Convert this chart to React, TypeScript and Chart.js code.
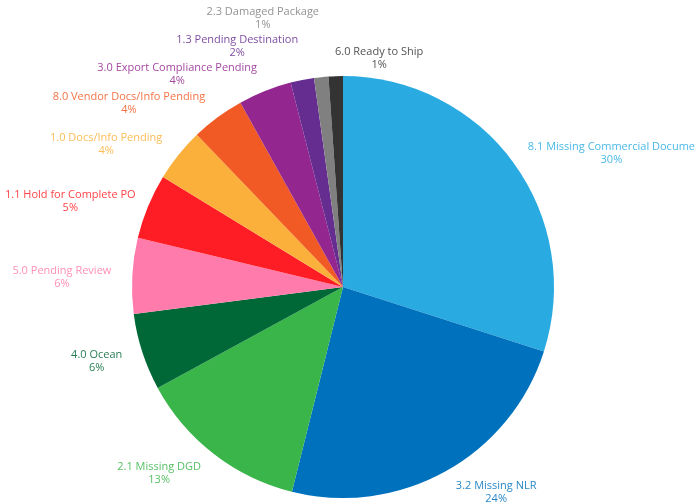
import React, { useEffect, useRef } from "react";
import { Chart, registerables } from "chart.js";

Chart.register(...registerables);

const categories: string[] = [
  "8.1 Missing Commercial Docume",
  "3.2 Missing NLR",
  "2.1 Missing DGD",
  "4.0 Ocean",
  "5.0 Pending Review",
  "1.1 Hold for Complete PO",
  "1.0 Docs/Info Pending",
  "8.0 Vendor Docs/Info Pending",
  "3.0 Export Compliance Pending",
  "1.3 Pending Destination",
  "2.3 Damaged Package",
  "6.0 Ready to Ship",
];
const values: number[] = [30.0, 24.0, 13.2, 5.9, 5.8, 5.0, 4.1, 4.1, 4.1, 1.8, 1.1, 1.1];
const sliceColors: string[] = [
  "#29ABE2",
  "#0071BC",
  "#39B54A",
  "#006837",
  "#FF7BAC",
  "#FF1D25",
  "#FBB03B",
  "#F15A24",
  "#93278F",
  "#662D91",
  "#808080",
  "#333333",
];

const FONT = '11px "Open Sans"';
const LINE_H = 13;
const GAP = 21;
const Y_SHIFT = 3;
const BOX_PAD = 2;
const EDGE = 5;

type Box = { left: number; top: number; w: number; h: number };

const overlaps = (a: Box, b: Box) =>
  a.left < b.left + b.w && b.left < a.left + a.w && a.top < b.top + b.h && b.top < a.top + a.h;

const outerLabels = {
  id: "outerLabels",
  afterDraw(chart: any) {
    const ctx: CanvasRenderingContext2D = chart.ctx;
    const meta = chart.getDatasetMeta(0);
    const data: number[] = chart.data.datasets[0].data;
    const labels: string[] = chart.data.labels;
    const total = data.reduce((a, b) => a + b, 0);
    const cw: number = chart.width;
    ctx.save();
    ctx.font = FONT;
    const items = meta.data.map((arc: any, i: number) => {
      const p = arc.getProps(["x", "y", "startAngle", "endAngle", "outerRadius"], true);
      const mid = (p.startAngle + p.endAngle) / 2;
      const d = p.outerRadius + GAP;
      const ax = p.x + d * Math.cos(mid);
      const ay = p.y + d * Math.sin(mid) + Y_SHIFT;
      const lines = [labels[i], Math.round((data[i] / total) * 100) + "%"];
      const w = Math.max(...lines.map((l) => ctx.measureText(l).width));
      const h = LINE_H * 2;
      const c = Math.cos(mid);
      const align = Math.abs(c) < 0.1 ? "center" : c > 0 ? "left" : "right";
      return { i, mid, ax, ay, w, h, align, lines, box: null as Box | null };
    });
    const leftOf = (ax: number, w: number, align: string) => {
      const l = align === "left" ? ax : align === "right" ? ax - w : ax - w / 2;
      return Math.min(Math.max(l, EDGE), cw - EDGE - w);
    };
    const placed: Box[] = [];
    const right = items.filter((it: any) => Math.cos(it.mid) >= 0).sort((a: any, b: any) => a.ay - b.ay);
    const left = items.filter((it: any) => Math.cos(it.mid) < 0).sort((a: any, b: any) => b.ay - a.ay);
    const pushDown = (it: any) => {
      const box: Box = { left: leftOf(it.ax, it.w, it.align), top: it.ay - it.h / 2, w: it.w, h: it.h + BOX_PAD };
      let guard = 0;
      let hit = placed.find((b) => overlaps(box, b));
      while (hit && guard++ < 50) {
        box.top = hit.top + hit.h;
        hit = placed.find((b) => overlaps(box, b));
      }
      return box;
    };
    right.forEach((it: any) => {
      it.box = pushDown(it);
      placed.push(it.box);
    });
    left.forEach((it: any) => {
      const box: Box = { left: leftOf(it.ax, it.w, it.align), top: it.ay - it.h / 2, w: it.w, h: it.h + BOX_PAD };
      let guard = 0;
      let hit = placed.find((b) => overlaps(box, b));
      while (hit && guard++ < 50) {
        box.top = hit.top - box.h;
        hit = placed.find((b) => overlaps(box, b));
      }
      if (box.top < 2) {
        it.align = "left";
        it.box = pushDown(it);
      } else {
        it.box = box;
      }
      placed.push(it.box);
    });
    ctx.textAlign = "center";
    ctx.textBaseline = "middle";
    items.forEach((it: any) => {
      const b: Box = it.box;
      ctx.fillStyle = sliceColors[it.i];
      ctx.globalAlpha = 0.85;
      it.lines.forEach((l: string, k: number) => {
        ctx.fillText(l, b.left + b.w / 2, b.top + LINE_H / 2 + k * LINE_H);
      });
    });
    ctx.restore();
  },
};

export default function App() {
  const ref = useRef<HTMLCanvasElement | null>(null);
  useEffect(() => {
    if (!ref.current) return;
    const chart = new Chart(ref.current, {
      type: "pie",
      data: {
        labels: categories,
        datasets: [
          {
            data: values,
            backgroundColor: sliceColors,
            borderWidth: 0,
            hoverOffset: 0,
            offset: 0,
          },
        ],
      },
      options: {
        responsive: false,
        animation: false,
        devicePixelRatio: 1,
        layout: { padding: { top: 76, bottom: 6, left: 0, right: 14 } },
        plugins: {
          legend: { display: false },
          tooltip: { enabled: false },
        },
      },
      plugins: [outerLabels],
    });
    return () => chart.destroy();
  }, []);
  return (
    <div style={{ position: "absolute", left: 0, top: 0, width: 700, height: 504, background: "#fff" }}>
      <canvas ref={ref} width={700} height={504} style={{ width: 700, height: 504 }} />
    </div>
  );
}
